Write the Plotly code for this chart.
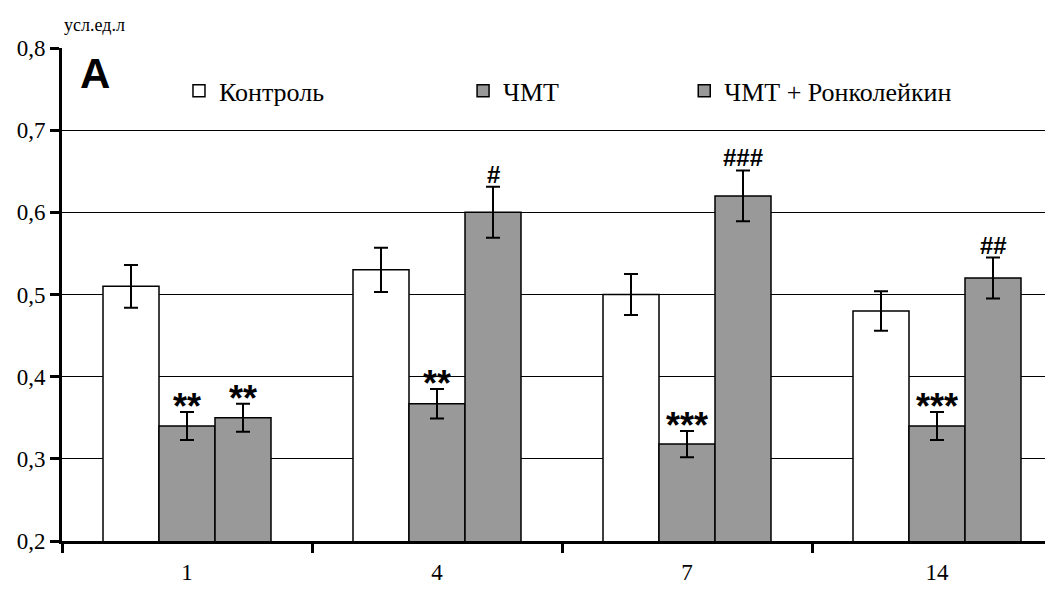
import plotly.graph_objects as go

categories = ["1", "4", "7", "14"]
series_names = ["Контроль", "ЧМТ", "ЧМТ + Ронколейкин"]
control = [0.51, 0.53, 0.50, 0.48]
control_err = [0.026, 0.027, 0.025, 0.024]
tbi = [0.34, 0.367, 0.318, 0.34]
tbi_err = [0.017, 0.018, 0.016, 0.017]
tbi_ronco = [0.35, 0.60, 0.62, 0.52]
tbi_ronco_err = [0.017, 0.031, 0.031, 0.025]
tbi_marks = ["**", "**", "***", "***"]
ronco_marks = ["**", "#", "###", "##"]

BARGAP = 0.328
SERIF = "Liberation Serif, Times New Roman, Times, serif"
SANS = "Liberation Sans, Arial, sans-serif"

fig = go.Figure()
values = [control, tbi, tbi_ronco]
errs = [control_err, tbi_err, tbi_ronco_err]
fills = ["#ffffff", "#999999", "#999999"]
legends = ["legend", "legend2", "legend3"]
for name, v, e, c, lg in zip(series_names, values, errs, fills, legends):
    fig.add_trace(go.Bar(
        x=categories, y=v, name=name, legend=lg,
        marker=dict(color=c, line=dict(color="black", width=1.5)),
        error_y=dict(type="data", array=e, visible=True, color="black",
                     thickness=2, width=7),
    ))

bw = (1 - BARGAP) / 3
for i in range(len(categories)):
    fig.add_annotation(x=i, y=tbi[i] + tbi_err[i], text="<b>" + tbi_marks[i] + "</b>",
                       showarrow=False, yanchor="bottom", yshift=-17,
                       font=dict(family=SANS, size=36, color="black"))
    m = ronco_marks[i]
    star = m.startswith("*")
    fig.add_annotation(x=i + bw, y=tbi_ronco[i] + tbi_ronco_err[i], text="<b>" + m + "</b>",
                       showarrow=False, yanchor="bottom", yshift=-17 if star else -3,
                       font=dict(family=SANS, size=36 if star else 24, color="black"))

fig.add_annotation(xref="paper", yref="paper", x=0.016, y=1.0, text="<b>A</b>",
                   showarrow=False, xanchor="left", yanchor="top",
                   font=dict(family=SANS, size=42, color="black"))
fig.add_annotation(xref="paper", yref="paper", x=0.0, y=1.0, yshift=23, text="усл.ед.л",
                   showarrow=False, xanchor="left", yanchor="middle",
                   font=dict(family=SERIF, size=18, color="black"))

leg_common = dict(orientation="h", yanchor="middle", y=0.913, xanchor="left",
                  bgcolor="rgba(0,0,0,0)", font=dict(family=SERIF, size=26, color="black"),
                  itemclick=False, itemdoubleclick=False)

fig.update_layout(
    width=1037, height=576,
    margin=dict(l=54, r=0, t=40, b=43),
    paper_bgcolor="white", plot_bgcolor="white",
    font=dict(family=SERIF, color="black"),
    barmode="group", bargap=BARGAP, bargroupgap=0,
    separators=", ",
    showlegend=True,
    legend=dict(x=0.119, **leg_common),
    legend2=dict(x=0.408, **leg_common),
    legend3=dict(x=0.633, **leg_common),
    xaxis=dict(type="category", range=[-0.5, 3.432], showline=True, linecolor="black",
               linewidth=3, ticks="outside", tickson="boundaries", ticklen=9, tickwidth=3,
               tickcolor="black", showgrid=False, ticklabelstandoff=8,
               tickfont=dict(family=SERIF, size=23, color="black")),
    yaxis=dict(range=[0.2, 0.8], tickvals=[0.2, 0.3, 0.4, 0.5, 0.6, 0.7, 0.8],
               tickformat=".1f", showline=True, linecolor="black", linewidth=3,
               ticks="outside", ticklen=9, tickwidth=3, tickcolor="black",
               showgrid=True, gridcolor="black", gridwidth=1.3, zeroline=False,
               tickfont=dict(family=SERIF, size=23, color="black")),
)

fig.write_html("out.html")
